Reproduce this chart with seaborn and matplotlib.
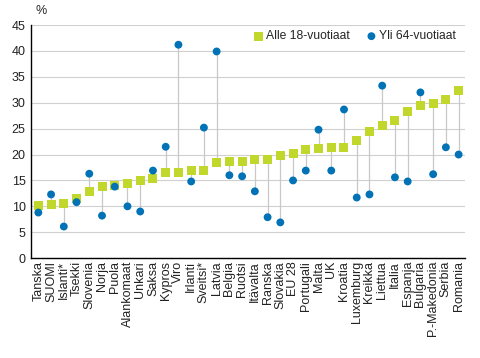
import matplotlib
matplotlib.use("Agg")
import seaborn as sns
from matplotlib import pyplot as plt

countries = ["Tanska", "SUOMI", "Islanti*", "Tsekki", "Slovenia", "Norja", "Puola",
             "Alankomaat", "Unkari", "Saksa", "Kypros", "Viro", "Irlanti", "Sveitsi*",
             "Latvia", "Belgia", "Ruotsi", "Itävalta", "Ranska", "Slovakia", "EU 28",
             "Portugali", "Malta", "UK", "Kroatia", "Luxemburg", "Kreikka", "Liettua",
             "Italia", "Espanja", "Bulgaria", "P.-Makedonia", "Serbia", "Romania"]
under18 = [10.1, 10.3, 10.6, 11.6, 12.8, 13.8, 14.1, 14.5, 14.9, 15.3, 16.6, 16.6, 17.0,
           17.0, 18.5, 18.7, 18.7, 19.1, 19.1, 19.9, 20.2, 20.9, 21.2, 21.4, 21.4, 22.8,
           24.5, 25.7, 26.5, 28.4, 29.4, 29.9, 30.6, 32.3]
over64 = [8.8, 12.3, 6.1, 10.8, 16.3, 8.2, 13.8, 10.0, 9.0, 16.9, 21.5, 41.2, 14.8, 25.2,
          39.9, 16.0, 15.8, 12.9, 7.9, 6.9, 15.0, 16.9, 24.8, 16.9, 28.7, 11.7, 12.3, 33.3,
          15.6, 14.8, 32.0, 16.2, 21.4, 20.0]
yticks = list(range(0, 50, 5))

green = "#c2d72c"
blue = "#0072b5"

sns.set_theme(style="white")
plt.rcParams["font.family"] = ["Liberation Sans", "DejaVu Sans"]

fig = plt.figure(figsize=(4.8, 3.58), dpi=100)
ax = fig.add_axes([0.065, 0.279, 0.904, 0.651])

lo = [min(a, b) for a, b in zip(under18, over64)]
hi = [max(a, b) for a, b in zip(under18, over64)]
ax.vlines(countries, lo, hi, color="#c8c8c8", linewidth=0.9, zorder=1)

sns.scatterplot(x=countries, y=under18, marker="s", s=42, color=green, edgecolor="none",
                label="Alle 18-vuotiaat", ax=ax, zorder=3)
sns.scatterplot(x=countries, y=over64, marker="o", s=32, color=blue, edgecolor="none",
                label="Yli 64-vuotiaat", ax=ax, zorder=4)

ax.set_xlim(-0.56, len(countries) - 0.49)
ax.set_ylim(0, 45)
ax.set_yticks(yticks)
ax.yaxis.grid(True, color="#d0d0d0", linewidth=0.8)
ax.set_axisbelow(True)
for side in ["top", "right"]:
    ax.spines[side].set_visible(False)
for side in ["left", "bottom"]:
    ax.spines[side].set_color("black")
    ax.spines[side].set_linewidth(1.0)
ax.tick_params(axis="y", labelsize=9, length=0, pad=4, colors="#222222")
ax.tick_params(axis="x", labelsize=9, length=0, pad=2, colors="#222222")
plt.setp(ax.get_xticklabels(), rotation=90)
ax.text(0.01, 1.035, "%", transform=ax.transAxes, fontsize=9, ha="left", va="bottom")

ax.legend(loc="upper right", bbox_to_anchor=(1.003, 1.024), ncol=2, frameon=False,
          fontsize=8.7, handletextpad=0.0, columnspacing=1.2, markerscale=1.0,
          handlelength=1.2)

fig.savefig("out.png", dpi=100)
